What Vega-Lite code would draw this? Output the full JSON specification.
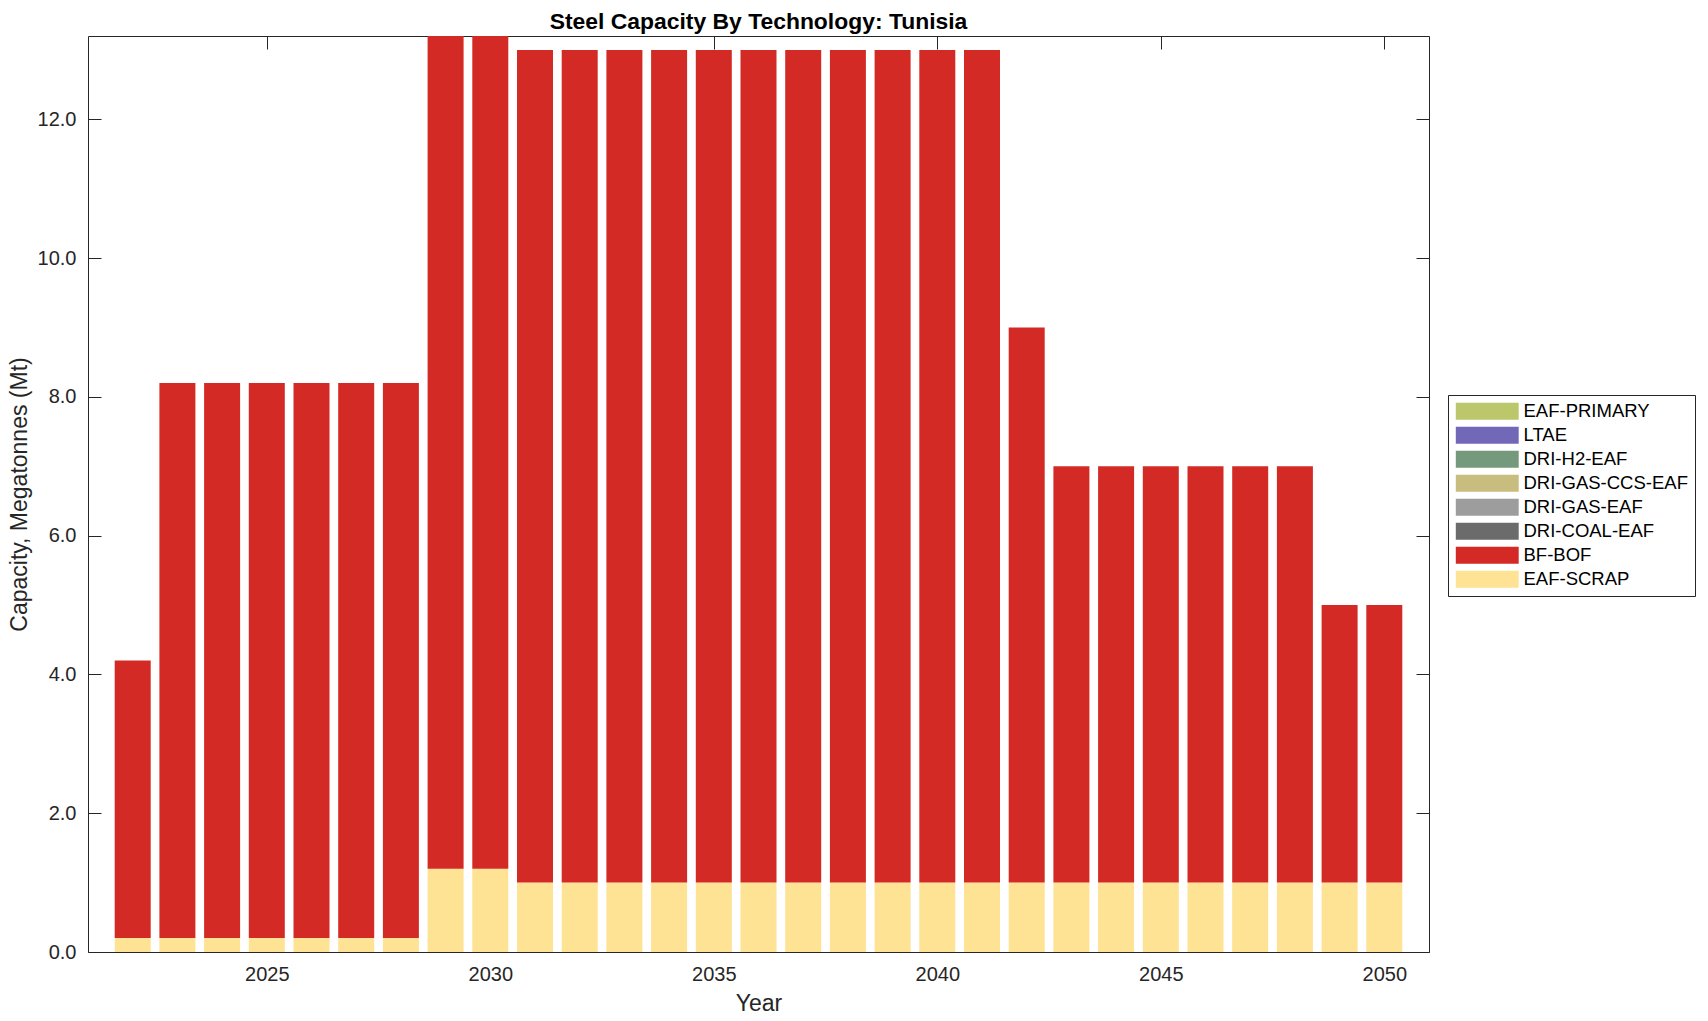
{
  "$schema": "https://vega.github.io/schema/vega-lite/v6.json",
  "autosize": "none",
  "width": 1341,
  "height": 916,
  "padding": {"left": 88, "top": 36, "right": 279, "bottom": 69},
  "background": "white",
  "title": {"text": "Steel Capacity By Technology: Tunisia", "font": "Liberation Sans", "fontSize": 22.9, "fontWeight": "bold", "color": "black", "offset": 2, "anchor": "middle"},
  "config": {
    "view": {"stroke": "#262626", "strokeWidth": 1},
    "axis": {"grid": false, "domain": false, "tickColor": "#262626", "tickSize": -13, "labelFont": "Liberation Sans", "labelFontSize": 20, "labelColor": "#262626", "titleFont": "Liberation Sans", "titleFontSize": 23, "titleFontWeight": "normal", "titleColor": "#262626"},
    "legend": {"labelFont": "Liberation Sans", "labelFontSize": 18.5, "labelColor": "black"}
  },
  "data": {"values": [
    {"year": 2022, "tech": "EAF-SCRAP", "value": 0.2}, {"year": 2022, "tech": "BF-BOF", "value": 4.0},
    {"year": 2023, "tech": "EAF-SCRAP", "value": 0.2}, {"year": 2023, "tech": "BF-BOF", "value": 8.0},
    {"year": 2024, "tech": "EAF-SCRAP", "value": 0.2}, {"year": 2024, "tech": "BF-BOF", "value": 8.0},
    {"year": 2025, "tech": "EAF-SCRAP", "value": 0.2}, {"year": 2025, "tech": "BF-BOF", "value": 8.0},
    {"year": 2026, "tech": "EAF-SCRAP", "value": 0.2}, {"year": 2026, "tech": "BF-BOF", "value": 8.0},
    {"year": 2027, "tech": "EAF-SCRAP", "value": 0.2}, {"year": 2027, "tech": "BF-BOF", "value": 8.0},
    {"year": 2028, "tech": "EAF-SCRAP", "value": 0.2}, {"year": 2028, "tech": "BF-BOF", "value": 8.0},
    {"year": 2029, "tech": "EAF-SCRAP", "value": 1.2}, {"year": 2029, "tech": "BF-BOF", "value": 12.0},
    {"year": 2030, "tech": "EAF-SCRAP", "value": 1.2}, {"year": 2030, "tech": "BF-BOF", "value": 12.0},
    {"year": 2031, "tech": "EAF-SCRAP", "value": 1.0}, {"year": 2031, "tech": "BF-BOF", "value": 12.0},
    {"year": 2032, "tech": "EAF-SCRAP", "value": 1.0}, {"year": 2032, "tech": "BF-BOF", "value": 12.0},
    {"year": 2033, "tech": "EAF-SCRAP", "value": 1.0}, {"year": 2033, "tech": "BF-BOF", "value": 12.0},
    {"year": 2034, "tech": "EAF-SCRAP", "value": 1.0}, {"year": 2034, "tech": "BF-BOF", "value": 12.0},
    {"year": 2035, "tech": "EAF-SCRAP", "value": 1.0}, {"year": 2035, "tech": "BF-BOF", "value": 12.0},
    {"year": 2036, "tech": "EAF-SCRAP", "value": 1.0}, {"year": 2036, "tech": "BF-BOF", "value": 12.0},
    {"year": 2037, "tech": "EAF-SCRAP", "value": 1.0}, {"year": 2037, "tech": "BF-BOF", "value": 12.0},
    {"year": 2038, "tech": "EAF-SCRAP", "value": 1.0}, {"year": 2038, "tech": "BF-BOF", "value": 12.0},
    {"year": 2039, "tech": "EAF-SCRAP", "value": 1.0}, {"year": 2039, "tech": "BF-BOF", "value": 12.0},
    {"year": 2040, "tech": "EAF-SCRAP", "value": 1.0}, {"year": 2040, "tech": "BF-BOF", "value": 12.0},
    {"year": 2041, "tech": "EAF-SCRAP", "value": 1.0}, {"year": 2041, "tech": "BF-BOF", "value": 12.0},
    {"year": 2042, "tech": "EAF-SCRAP", "value": 1.0}, {"year": 2042, "tech": "BF-BOF", "value": 8.0},
    {"year": 2043, "tech": "EAF-SCRAP", "value": 1.0}, {"year": 2043, "tech": "BF-BOF", "value": 6.0},
    {"year": 2044, "tech": "EAF-SCRAP", "value": 1.0}, {"year": 2044, "tech": "BF-BOF", "value": 6.0},
    {"year": 2045, "tech": "EAF-SCRAP", "value": 1.0}, {"year": 2045, "tech": "BF-BOF", "value": 6.0},
    {"year": 2046, "tech": "EAF-SCRAP", "value": 1.0}, {"year": 2046, "tech": "BF-BOF", "value": 6.0},
    {"year": 2047, "tech": "EAF-SCRAP", "value": 1.0}, {"year": 2047, "tech": "BF-BOF", "value": 6.0},
    {"year": 2048, "tech": "EAF-SCRAP", "value": 1.0}, {"year": 2048, "tech": "BF-BOF", "value": 6.0},
    {"year": 2049, "tech": "EAF-SCRAP", "value": 1.0}, {"year": 2049, "tech": "BF-BOF", "value": 4.0},
    {"year": 2050, "tech": "EAF-SCRAP", "value": 1.0}, {"year": 2050, "tech": "BF-BOF", "value": 4.0}
  ]},
  "layer": [
    {
      "mark": {"type": "bar", "size": 36, "clip": true},
      "encoding": {
        "x": {"field": "year", "type": "quantitative", "scale": {"domain": [2021, 2051], "nice": false, "zero": false, "padding": 0},
              "axis": {"values": [2025, 2030, 2035, 2040, 2045, 2050], "format": "d", "title": "Year", "labelPadding": 25, "titlePadding": 8}},
        "y": {"field": "value", "type": "quantitative", "stack": "zero", "scale": {"domain": [0, 13.2], "nice": false},
              "axis": {"values": [0, 2, 4, 6, 8, 10, 12], "format": ".1f", "title": "Capacity, Megatonnes (Mt)", "labelPadding": 25, "titlePadding": 6}},
        "color": {"field": "tech", "type": "nominal",
                  "scale": {"domain": ["EAF-PRIMARY", "LTAE", "DRI-H2-EAF", "DRI-GAS-CCS-EAF", "DRI-GAS-EAF", "DRI-COAL-EAF", "BF-BOF", "EAF-SCRAP"],
                            "range": ["#bcc66a", "#7268b8", "#74997c", "#c8bc7e", "#9d9d9d", "#6b6b6b", "#d32a25", "#fee394"]},
                  "legend": {"title": null, "orient": "none", "legendX": 1360, "legendY": 359, "strokeColor": "#262626", "fillColor": "white", "padding": 7,
                             "symbolType": "M-3.7,-1H3.7V1H-3.7Z", "symbolSize": 289, "symbolOffset": 23, "symbolStrokeWidth": 0, "symbolOpacity": 1,
                             "rowPadding": 5, "labelOffset": 27, "labelLimit": 400}},
        "order": {"field": "tech", "sort": "descending"}
      }
    },
    {
      "mark": {"type": "bar", "size": 36, "opacity": 0, "clip": true},
      "encoding": {
        "x": {"field": "year", "type": "quantitative", "axis": {"orient": "top", "values": [2025, 2030, 2035, 2040, 2045, 2050], "labels": false, "title": null}},
        "y": {"field": "value", "type": "quantitative", "stack": "zero", "axis": {"orient": "right", "values": [0, 2, 4, 6, 8, 10, 12], "labels": false, "title": null}}
      }
    }
  ],
  "resolve": {"axis": {"x": "independent", "y": "independent"}}
}
